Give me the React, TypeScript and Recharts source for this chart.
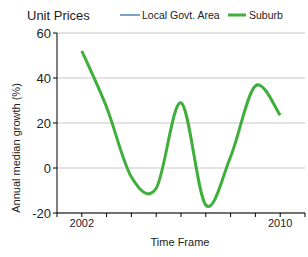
import React from "react";
import { LineChart, Line, XAxis, YAxis, CartesianGrid } from "recharts";

const years = [2002, 2003, 2004, 2005, 2006, 2007, 2008, 2009, 2010];
const suburbGrowth = [52, 27, -4, -9, 29, -16.5, 5, 36.5, 23.5];
const xTicks = [2001, 2002, 2003, 2004, 2005, 2006, 2007, 2008, 2009, 2010, 2011];
const xLabelled = [2002, 2010];
const yTicks = [-20, 0, 20, 40, 60];
const seriesNames = ["Local Govt. Area", "Suburb"];
const seriesColors = ["#7aa3c6", "#3fae3a"];

const data = years.map((y, i) => ({ year: y, suburb: suburbGrowth[i] }));

// Catmull-Rom (cardinal, tension 0) curve factory
function catmullRom(context: any) {
  let pts: [number, number][] = [];
  return {
    areaStart() {},
    areaEnd() {},
    lineStart() {
      pts = [];
    },
    lineEnd() {
      const n = pts.length;
      if (n === 0) return;
      context.moveTo(pts[0][0], pts[0][1]);
      if (n === 1) return;
      const k = 1 / 6;
      for (let i = 0; i < n - 1; i++) {
        const p0 = pts[Math.max(0, i - 1)];
        const p1 = pts[i];
        const p2 = pts[i + 1];
        const p3 = pts[Math.min(n - 1, i + 2)];
        const c1x = p1[0] + k * (p2[0] - p0[0]);
        const c1y = p1[1] + k * (p2[1] - p0[1]);
        const c2x = p2[0] - k * (p3[0] - p1[0]);
        const c2y = p2[1] - k * (p3[1] - p1[1]);
        context.bezierCurveTo(c1x, c1y, c2x, c2y, p2[0], p2[1]);
      }
    },
    point(x: number, y: number) {
      pts.push([+x, +y]);
    },
  };
}

const font = "'Liberation Sans', Arial, sans-serif";

const YLabel = () => (
  <text
    x={16}
    y={148}
    transform="rotate(-90 16 148)"
    textAnchor="middle"
    dominantBaseline="central"
    fontFamily={font}
    fontSize={11}
    fill="#222"
  >
    Annual median growth (%)
  </text>
);

const XLabel = () => (
  <text x={180} y={246} textAnchor="middle" fontFamily={font} fontSize={11} fill="#222">
    Time Frame
  </text>
);

export default function App() {
  return (
    <div style={{ position: "absolute", left: 0, top: 0, width: 308, height: 257, background: "#fff" }}>
      <LineChart
        width={308}
        height={257}
        data={data}
        margin={{ top: 33, right: 3, bottom: 0, left: 0 }}
      >
        <CartesianGrid vertical={false} stroke="#c8c8c8" strokeWidth={1} />
        <XAxis
          dataKey="year"
          type="number"
          domain={[2001, 2011]}
          ticks={xTicks}
          interval={0}
          tickFormatter={(v: number) => (xLabelled.includes(v) ? String(v) : "")}
          axisLine={{ stroke: "#000" }}
          tickLine={{ stroke: "#000" }}
          tickSize={4}
          tick={{ fontFamily: font, fontSize: 11, fill: "#222" }}
          height={44}
          label={<XLabel />}
        />
        <YAxis
          type="number"
          domain={[-20, 60]}
          ticks={yTicks}
          interval={0}
          axisLine={{ stroke: "#000" }}
          tickLine={{ stroke: "#000" }}
          tickSize={4}
          tick={{ fontFamily: font, fontSize: 13, fill: "#222" }}
          width={57}
          label={<YLabel />}
        />
        <Line
          dataKey="suburb"
          type={catmullRom as any}
          stroke={seriesColors[1]}
          strokeWidth={3}
          dot={false}
          activeDot={false}
          isAnimationActive={false}
        />
      </LineChart>
      <svg
        width={308}
        height={30}
        style={{ position: "absolute", left: 0, top: 0 }}
      >
        <text x={27} y={20} fontFamily={font} fontSize={13} fill="#222">
          Unit Prices
        </text>
        <line x1={120} x2={140} y1={15} y2={15} stroke={seriesColors[0]} strokeWidth={2} />
        <text x={142} y={19} fontFamily={font} fontSize={10.5} fill="#222">
          {seriesNames[0]}
        </text>
        <line x1={228} x2={246} y1={15} y2={15} stroke={seriesColors[1]} strokeWidth={3} />
        <text x={249} y={19} fontFamily={font} fontSize={10.5} fill="#222">
          {seriesNames[1]}
        </text>
      </svg>
    </div>
  );
}
